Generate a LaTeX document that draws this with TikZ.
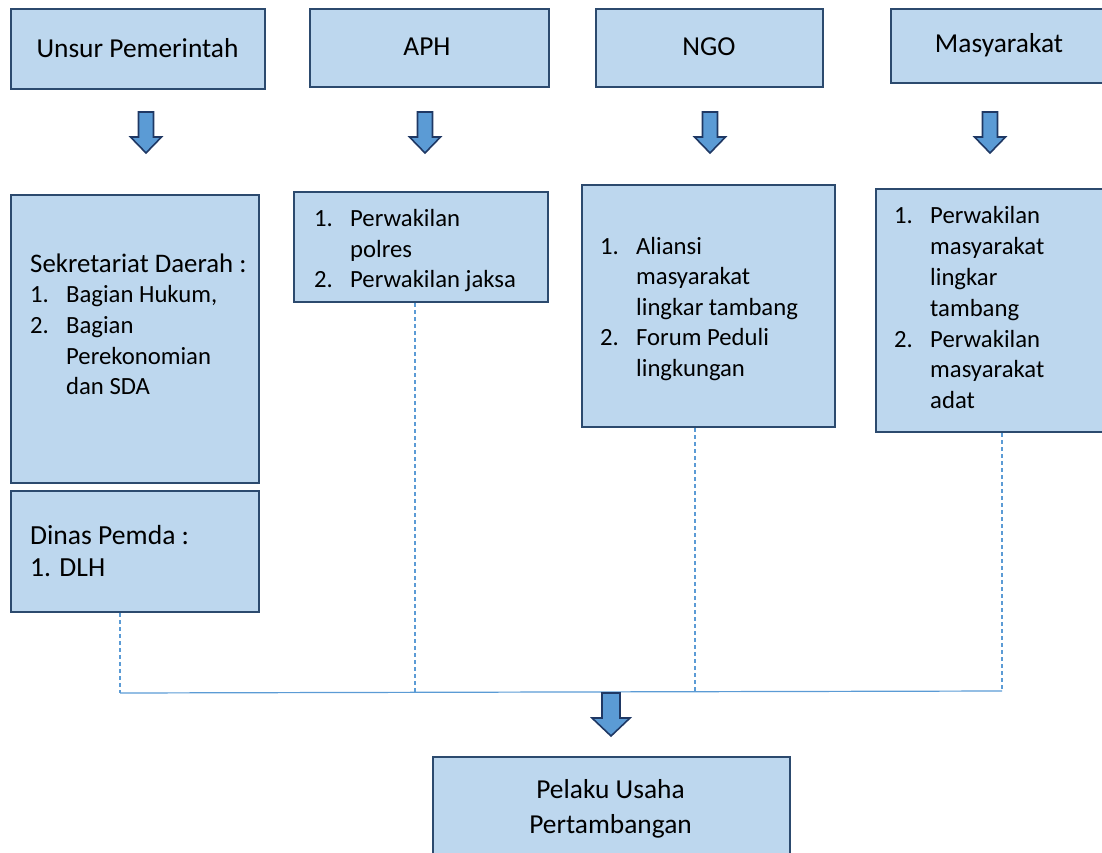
\documentclass[tikz,border=0pt]{standalone}
\usepackage{fontspec}
\setmainfont{Carlito}
\definecolor{boxfill}{HTML}{BDD7EE}
\definecolor{boxline}{HTML}{2C4A6E}
\definecolor{arrfill}{HTML}{5B9BD5}
\definecolor{arrline}{HTML}{1F3864}
\definecolor{conn}{HTML}{5B9BD5}
\newcommand\itm[1]{\makebox[36pt][l]{#1}}
\newcommand\cnt{\hspace*{36pt}}
\tikzset{
  boxsty/.style={draw=boxline, fill=boxfill, line width=2.2pt, inner sep=0pt, anchor=north west},
  txt/.style={anchor=north west, inner sep=0pt, align=left, font=\fontsize{24.7}{30.6}\selectfont},
  ttl/.style={inner sep=0pt, align=center, font=\fontsize{27.4}{35}\selectfont},
  arrsty/.style={draw=arrline, fill=arrfill, line width=1.6pt, line join=miter},
  dashsty/.style={draw=conn, line width=1.2pt, dash pattern=on 4pt off 3pt},
  bussty/.style={draw=conn, line width=1.2pt},
  darrow/.pic={\path[arrsty] (-7.5,0) -- (7.5,0) -- (7.5,25) -- (15.5,25) -- (0,41) -- (-15.5,25) -- (-7.5,25) -- cycle;},
  bigdarrow/.pic={\path[arrsty] (-9,0) -- (9,0) -- (9,25) -- (19,25) -- (0,43) -- (-19,25) -- (-9,25) -- cycle;}
}
\begin{document}
\begin{tikzpicture}[x=1pt,y=-1pt]
\useasboundingbox (0,0) rectangle (1102,853);
% top boxes
\node[boxsty, minimum width=254pt, minimum height=80pt] (unsur) at (10,8) {};
\node[boxsty, minimum width=239pt, minimum height=78pt] (aph) at (309,8) {};
\node[boxsty, minimum width=227pt, minimum height=78pt] (ngo) at (595,8) {};
\node[boxsty, minimum width=230pt, minimum height=74pt] (masy) at (890,8) {};
\node[ttl] (unsurT) at (137.5,48) {Unsur Pemerintah};
\node[ttl] (aphT) at (427,47) {APH};
\node[ttl] (ngoT) at (709,47) {NGO};
\node[ttl] (masyT) at (999,45) {Masyarakat};
% arrows
\pic at (146,112) {darrow};
\pic at (425,112) {darrow};
\pic at (710,112) {darrow};
\pic at (990,112) {darrow};
% second row boxes
\node[boxsty, minimum width=248pt, minimum height=288pt] (sek) at (10,194) {};
\node[boxsty, minimum width=248pt, minimum height=121pt] (dinas) at (10,490) {};
\node[boxsty, minimum width=254pt, minimum height=110pt] (polres) at (293,191) {};
\node[boxsty, minimum width=253pt, minimum height=242pt] (aliansi) at (581,184) {};
\node[boxsty, minimum width=240pt, minimum height=243pt] (perw) at (875,188) {};
% texts
\node[txt] (sekT) at (30,250.6) {\strut{\fontsize{26.8}{30.6}\selectfont Sekretariat Daerah :}\\ \itm{1.}Bagian Hukum,\\ \itm{2.}Bagian\\ \cnt Perekonomian\\ \cnt dan SDA};
\node[txt, font=\fontsize{27.6}{32}\selectfont] (dinasT) at (30,522) {\strut Dinas Pemda :\\ 1. DLH};
\node[txt] (polresT) at (314,204.9) {\strut\itm{1.}Perwakilan\\ \cnt polres\\ \itm{2.}Perwakilan jaksa};
\node[txt] (aliansiT) at (600,232.4) {\strut\itm{1.}Aliansi\\ \cnt masyarakat\\ \cnt lingkar tambang\\ \itm{2.}Forum Peduli\\ \cnt lingkungan};
\node[txt, font=\fontsize{24.7}{30.9}\selectfont] (perwT) at (894,201.6) {\strut\itm{1.}Perwakilan\\ \cnt masyarakat\\ \cnt lingkar\\ \cnt tambang\\ \itm{2.}Perwakilan\\ \cnt masyarakat\\ \cnt adat};
% bottom box
\node[boxsty, minimum width=357pt, minimum height=120pt] (pelaku) at (432,756) {};
\node[ttl] (pelakuT) at (610.5,808.5) {Pelaku Usaha\\Pertambangan};
% connectors
\coordinate (j1) at (120,693);
\coordinate (j2) at (415,692);
\coordinate (j3) at (695,691.5);
\coordinate (j4) at (1002,691);
\draw[dashsty] (dinas.south -| j1) -- (j1);
\draw[dashsty] (polres.south -| j2) -- (j2);
\draw[dashsty] (aliansi.south -| j3) -- (j3);
\draw[dashsty] (perw.south -| j4) -- (j4);
\draw[bussty] (j1) -- (j4);
\pic at (611,693) {bigdarrow};
\end{tikzpicture}
\end{document}
